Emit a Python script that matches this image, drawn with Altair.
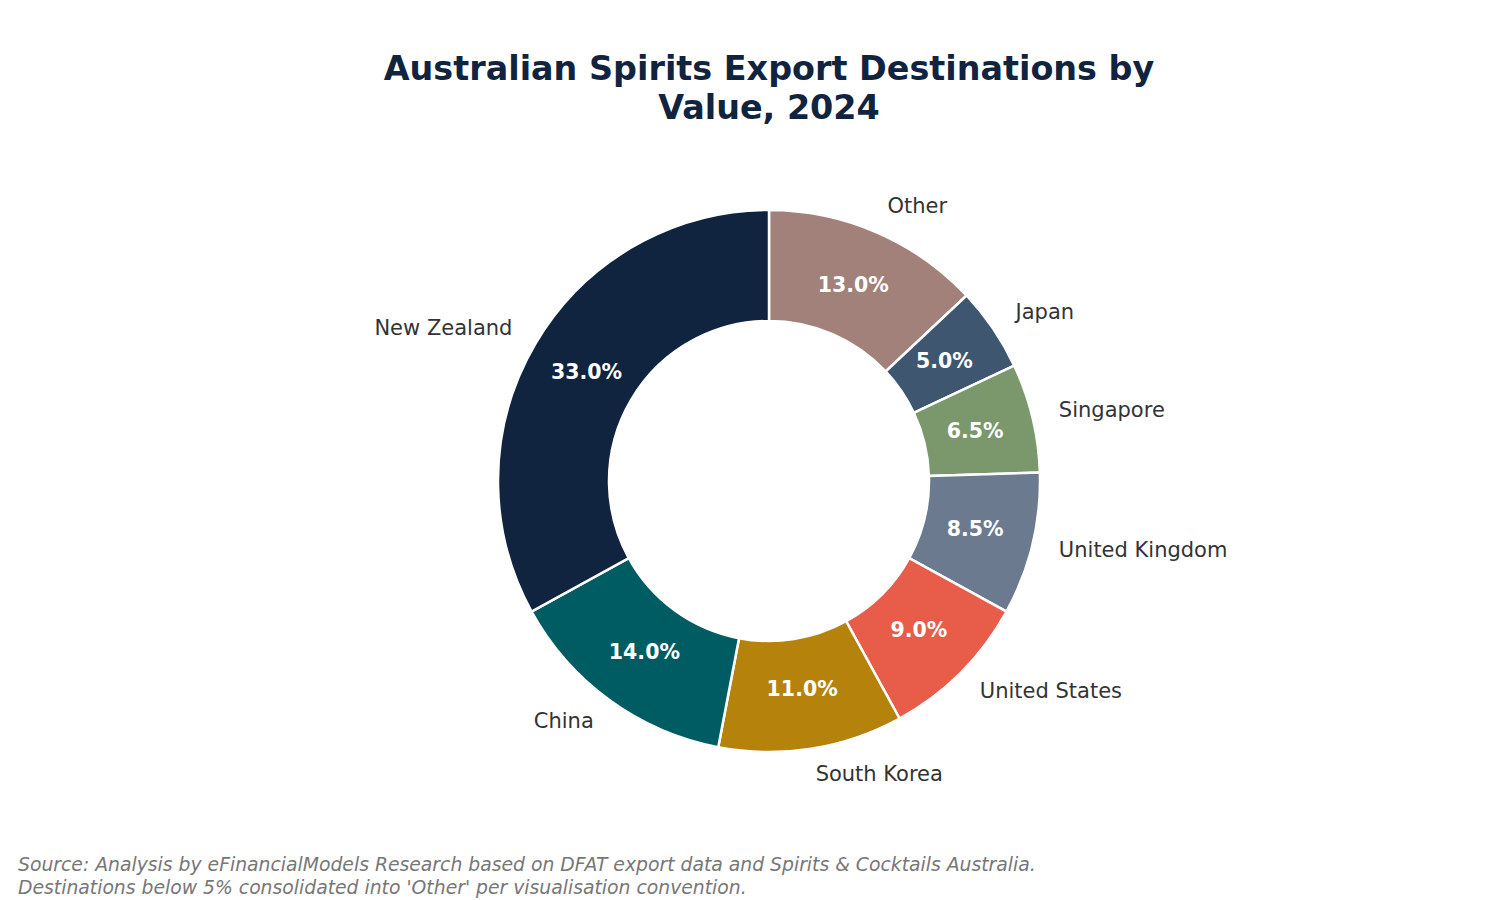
import altair as alt
import pandas as pd

countries = ["Other", "Japan", "Singapore", "United Kingdom", "United States",
             "South Korea", "China", "New Zealand"]
shares = [13.0, 5.0, 6.5, 8.5, 9.0, 11.0, 14.0, 33.0]
colors = ["#a3817b", "#3f5670", "#7a986b", "#6b7a8f", "#e85d4a",
          "#b5830c", "#005c63", "#10233f"]

title_lines = ["Australian Spirits Export Destinations by", "Value, 2024"]
footer_lines = [
    "Source: Analysis by eFinancialModels Research based on DFAT export data and Spirits & Cocktails Australia.",
    "Destinations below 5% consolidated into 'Other' per visualisation convention.",
]

df = pd.DataFrame({"country": countries, "share": shares, "order": range(len(countries))})
cum = df["share"].cumsum()
df["mid"] = cum - df["share"] / 2
df["side"] = ["right" if m < 50 else "left" for m in df["mid"]]
df["pct"] = [f"{v:.1f}%" for v in df["share"]]

CX, CY = 761, 335
R_OUT, R_IN = 271, 160

theta_scale = alt.Scale(domain=[0, 100])
color_scale = alt.Scale(domain=countries, range=colors)

base = alt.Chart(df)

arcs = base.mark_arc(outerRadius=R_OUT, innerRadius=R_IN, stroke="white", strokeWidth=2.5).encode(
    theta=alt.Theta("share:Q", stack=True, scale=theta_scale),
    order=alt.Order("order:Q"),
    color=alt.Color("country:N", scale=color_scale, legend=None),
    x=alt.value(CX), y=alt.value(CY),
)

pct = base.mark_text(radius=212, font="DejaVu Sans", fontSize=20.5,
                     fontWeight="bold", color="white", baseline="middle", align="center").encode(
    theta=alt.Theta("mid:Q", stack=None, scale=theta_scale),
    text="pct:N",
    x=alt.value(CX), y=alt.value(CY),
)

def side_labels(side):
    return base.transform_filter(alt.datum.side == side).mark_text(
        radius=R_OUT * 1.1, font="DejaVu Sans", fontSize=21, color="#333333",
        baseline="middle", align="left" if side == "right" else "right").encode(
        theta=alt.Theta("mid:Q", stack=None, scale=theta_scale),
        text="country:N",
        x=alt.value(CX), y=alt.value(CY),
    )

footer = alt.Chart(pd.DataFrame({"t": ["\n".join(footer_lines)]})).mark_text(
    font="DejaVu Sans", fontSize=18.8, fontStyle="italic", color="#777777",
    align="left", baseline="top", lineHeight=22.5, lineBreak="\n").encode(
    text="t:N", x=alt.value(10), y=alt.value(CY + 375))

chart = alt.layer(arcs, pct, side_labels("right"), side_labels("left"), footer).properties(
    width=1484, height=700,
    padding={"top": 44, "left": 0, "right": 0, "bottom": 0},
    title=alt.Title(title_lines, font="DejaVu Sans", fontSize=33.4, fontWeight="bold",
                    color="#10233f", anchor="middle", dx=19, lineHeight=39, offset=20),
).configure_view(stroke=None)

chart.save("out.html", embed_options={"renderer": "svg", "actions": False})
